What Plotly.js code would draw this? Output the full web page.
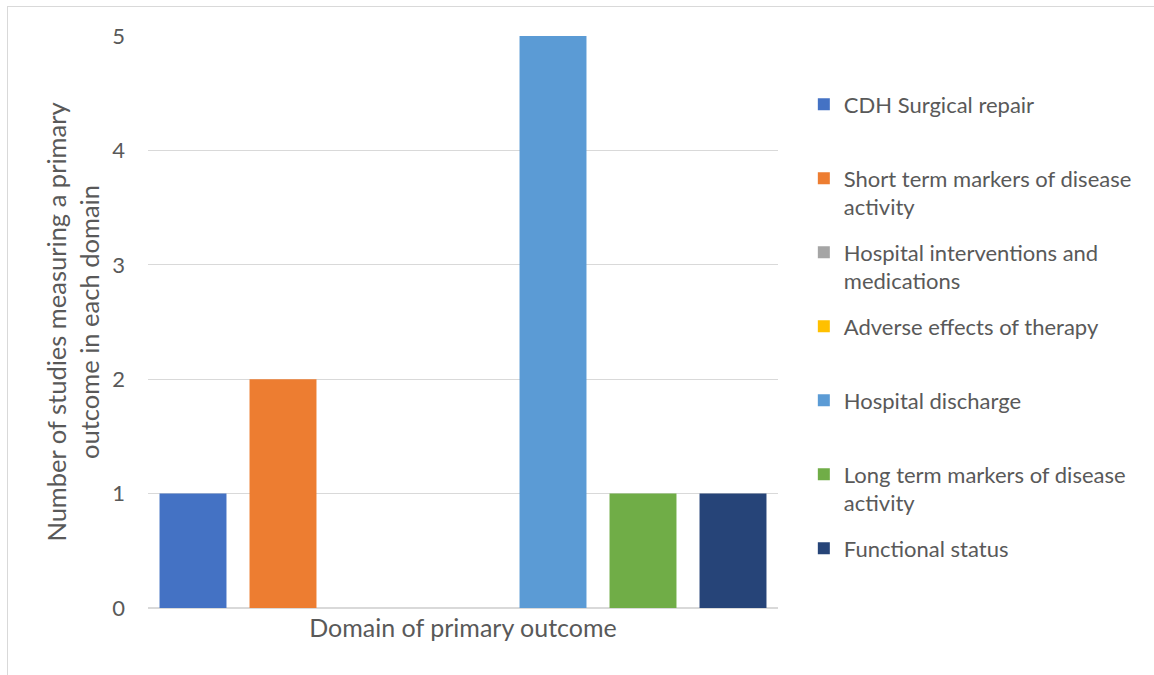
<!DOCTYPE html>
<html>
<head>
<meta charset="utf-8">
<script src="https://cdn.plot.ly/plotly-3.0.1.min.js"></script>
<style>
  html, body { margin: 0; padding: 0; background: #ffffff; }
  #frame {
    position: absolute; left: 7px; top: 6px; width: 1160px; height: 700px;
    border-left: 1.5px solid #d9d9d9; border-top: 1.5px solid #d9d9d9;
    pointer-events: none; z-index: 2;
  }
  #chart { position: absolute; left: 0; top: 0; width: 1154px; height: 675px; }
</style>
</head>
<body>
<div id="chart"></div>
<div id="frame"></div>
<script>
// Single category, one bar per outcome domain
const categories = ["Primary outcome domain"];

const seriesNames = [
  "CDH Surgical repair",
  "Short term markers of disease<br>activity",
  "Hospital interventions and<br>medications",
  "Adverse effects of therapy",
  "Hospital discharge",
  "Long term markers of disease<br>activity",
  "Functional status"
];

const seriesValues = [1, 2, 0, 0, 5, 1, 1];

const seriesColors = [
  "#4472C4", "#ED7D31", "#A5A5A5", "#FFC000", "#5B9BD5", "#70AD47", "#264478"
];

const yTicks = [0, 1, 2, 3, 4, 5];

const FONT = "Lato, 'Open Sans', sans-serif";
const TEXT = "#595959";

const traces = seriesNames.map((name, i) => {
  // give every legend entry two lines so entries get equal slots
  const label = name.includes("<br>") ? name : name + "<br> ";
  return {
    type: "bar",
    x: categories,
    y: [seriesValues[i]],
    name: label,
    legendgroup: "g" + i,
    marker: { color: seriesColors[i], line: { width: 0 } },
    hoverinfo: "skip"
  };
});

const layout = {
  width: 1154,
  height: 675,
  margin: { l: 148, r: 376, t: 36, b: 67, pad: 0 },
  paper_bgcolor: "#ffffff",
  plot_bgcolor: "#ffffff",
  font: { family: FONT, size: 22, color: TEXT },
  barmode: "group",
  bargap: 0,
  bargroupgap: 0.256,
  showlegend: true,
  legend: {
    x: 1.041, xanchor: "left",
    y: 0.917, yanchor: "top",
    traceorder: "grouped",
    tracegroupgap: 13.8,
    valign: "top",
    font: { family: FONT, size: 22, color: TEXT },
    bgcolor: "rgba(0,0,0,0)"
  },
  xaxis: {
    type: "category",
    showticklabels: false,
    showgrid: false,
    zeroline: false,
    showline: false,
    ticks: "",
    title: { text: "Domain of primary outcome", font: { family: FONT, size: 25, color: TEXT }, standoff: 11 }
  },
  yaxis: {
    range: [0, 5],
    tickvals: yTicks,
    ticktext: yTicks.map(String),
    showgrid: true,
    gridcolor: "#d9d9d9",
    gridwidth: 1.3,
    zeroline: true,
    zerolinecolor: "#d9d9d9",
    zerolinewidth: 1.5,
    showline: false,
    ticks: "",
    ticklabelstandoff: 22,
    tickfont: { family: FONT, size: 22, color: TEXT },
    title: {
      text: "Number of studies measuring a primary<br>outcome in each domain",
      font: { family: FONT, size: 25.5, color: TEXT },
      standoff: 5
    }
  }
};

Plotly.newPlot("chart", traces, layout, { staticPlot: true, displayModeBar: false });
</script>
</body>
</html>
